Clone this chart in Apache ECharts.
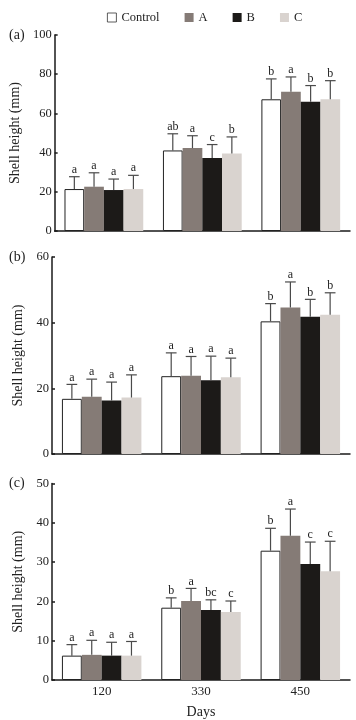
<!DOCTYPE html>
<html>
<head>
<meta charset="utf-8">
<script src="https://cdn.jsdelivr.net/npm/echarts@6/dist/echarts.min.js"></script>
<style>
  html, body { margin: 0; padding: 0; background: #fff; }
  #chart { width: 356px; height: 720px; }
</style>
</head>
<body>
<div id="chart"></div>
<script>
// 分组 / 天数
const days = ['120', '330', '450'];
const groups = ['Control', 'A', 'B', 'C'];
const groupColors = ['#ffffff', '#857b76', '#1c1a18', '#d9d3cf'];

// panel (a)
const aControl = [21.4, 41.1, 67.2];
const aA = [22.6, 42.3, 71.1];
const aB = [20.9, 37.2, 65.9];
const aC = [21.4, 39.6, 67.2];
const aErrControl = [6.3, 8.5, 10.4];
const aErrA = [7.1, 6.3, 7.5];
const aErrB = [5.6, 6.9, 8.3];
const aErrC = [7.0, 8.4, 9.5];
const aLetters = [['a', 'ab', 'b'], ['a', 'a', 'a'], ['a', 'c', 'b'], ['a', 'b', 'b']];

// panel (b)
const bControl = [16.8, 23.7, 40.4];
const bA = [17.4, 23.8, 44.6];
const bB = [16.3, 22.5, 41.8];
const bC = [17.2, 23.4, 42.4];
const bErrControl = [4.4, 7.1, 5.4];
const bErrA = [5.4, 5.9, 7.8];
const bErrB = [5.6, 7.3, 5.3];
const bErrC = [6.9, 5.8, 6.7];
const bLetters = [['a', 'a', 'b'], ['a', 'a', 'a'], ['a', 'a', 'b'], ['a', 'a', 'b']];

// panel (c)
const cControl = [6.2, 18.4, 32.9];
const cA = [6.4, 20.1, 36.7];
const cB = [6.2, 17.8, 29.5];
const cC = [6.2, 17.3, 27.7];
const cErrControl = [2.8, 2.5, 5.7];
const cErrA = [3.7, 3.2, 6.8];
const cErrB = [3.4, 2.6, 5.6];
const cErrC = [3.6, 2.8, 7.6];
const cLetters = [['a', 'b', 'b'], ['a', 'a', 'a'], ['a', 'bc', 'c'], ['a', 'c', 'c']];

const yMax = [100, 60, 50];
const yStep = [20, 20, 10];
const panelLabels = ['(a)', '(b)', '(c)'];

const panels = [
  { values: [aControl, aA, aB, aC], errs: [aErrControl, aErrA, aErrB, aErrC], letters: aLetters },
  { values: [bControl, bA, bB, bC], errs: [bErrControl, bErrA, bErrB, bErrC], letters: bLetters },
  { values: [cControl, cA, cB, cC], errs: [cErrControl, cErrA, cErrB, cErrC], letters: cLetters },
];

const FONT = 'Liberation Serif';
const gridTops = [35, 257, 483.5];
const gridHeights = [196, 197, 198];

const chart = echarts.init(document.getElementById('chart'));

const grid = [];
const xAxis = [];
const yAxis = [];
const series = [];
const graphic = [];

panels.forEach((p, pi) => {
  grid.push({ left: 52, right: 6, top: gridTops[pi], height: gridHeights[pi] });
  xAxis.push({
    type: 'category',
    gridIndex: pi,
    data: days,
    axisLine: { lineStyle: { color: '#1a1a1a', width: 1.5 } },
    axisTick: { show: false },
    axisLabel: {
      show: pi === 2,
      fontFamily: FONT,
      fontSize: 13,
      color: '#222',
      margin: 5,
    },
    name: pi === 2 ? 'Days' : '',
    nameLocation: 'middle',
    nameGap: 25,
    nameTextStyle: { fontFamily: FONT, fontSize: 14, color: '#222' },
  });
  yAxis.push({
    type: 'value',
    gridIndex: pi,
    min: 0,
    max: yMax[pi],
    interval: yStep[pi],
    splitLine: { show: false },
    axisLine: { show: true, lineStyle: { color: '#1a1a1a', width: 1.5 } },
    axisTick: { show: true, inside: true, length: 3, lineStyle: { color: '#1a1a1a', width: 1.5 } },
    axisLabel: { fontFamily: FONT, fontSize: 12.5, color: '#222', margin: 3 },
    name: 'Shell height (mm)',
    nameLocation: 'middle',
    nameGap: 27,
    nameTextStyle: { fontFamily: FONT, fontSize: 14, color: '#222' },
  });

  groups.forEach((g, gi) => {
    series.push({
      name: g,
      type: 'bar',
      xAxisIndex: pi,
      yAxisIndex: pi,
      data: p.values[gi],
      barGap: '0%',
      barCategoryGap: '20%',
      itemStyle: {
        color: groupColors[gi],
        borderColor: gi === 0 ? '#222' : groupColors[gi],
        borderWidth: gi === 0 ? 1 : 0,
      },
    });
  });

  // 误差线 + 显著性字母
  const errData = [];
  groups.forEach((g, gi) => {
    days.forEach((d, di) => {
      errData.push([di, gi, p.values[gi][di], p.errs[gi][di]]);
    });
  });
  series.push({
    type: 'custom',
    xAxisIndex: pi,
    yAxisIndex: pi,
    data: errData,
    encode: { x: 0, y: 2 },
    z: 5,
    renderItem: (params, api) => {
      const di = api.value(0);
      const gi = api.value(1);
      const v = api.value(2);
      const e = api.value(3);
      const band = api.size([1, 0])[0];
      const base = api.coord([di, v]);
      const top = api.coord([di, v + e]);
      const x = base[0] + (gi - 1.5) * band * 0.2;
      const half = band * 0.2 * 0.27;
      const style = { stroke: '#4a4a4a', lineWidth: 1.2 };
      return {
        type: 'group',
        children: [
          { type: 'line', shape: { x1: x, y1: base[1], x2: x, y2: top[1] }, style },
          { type: 'line', shape: { x1: x - half, y1: top[1], x2: x + half, y2: top[1] }, style },
          {
            type: 'text',
            x: x,
            y: top[1] - 1,
            style: {
              text: p.letters[gi][di],
              fontFamily: FONT,
              fontSize: 12,
              fill: '#222',
              align: 'center',
              verticalAlign: 'bottom',
            },
          },
        ],
      };
    },
  });

  graphic.push({
    type: 'text',
    left: 9,
    top: gridTops[pi] - 7,
    style: { text: panelLabels[pi], fontFamily: FONT, fontSize: 14, fill: '#222' },
  });
});

chart.setOption({
  animation: false,
  backgroundColor: '#fff',
  legend: {
    data: [
      { name: 'Control', itemStyle: { borderWidth: 0.8, borderColor: '#333' } },
      'A', 'B', 'C',
    ],
    left: 102,
    top: 6,
    icon: 'rect',
    itemWidth: 9,
    itemHeight: 9,
    itemGap: 25,
    textStyle: { fontFamily: FONT, fontSize: 12.5, color: '#222' },
  },
  grid,
  xAxis,
  yAxis,
  series,
  graphic,
});
</script>
</body>
</html>
